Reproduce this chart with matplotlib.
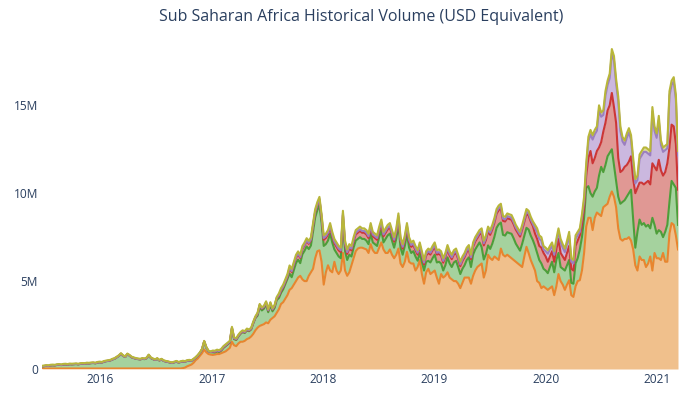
import numpy as np
import pandas as pd
import matplotlib
matplotlib.use("Agg")
import matplotlib.pyplot as plt
from matplotlib.ticker import FuncFormatter

plt.rcParams['font.family'] = ['Open Sans', 'DejaVu Sans']

# weekly volume per group, millions of USD
dates = pd.date_range('2015-06-24', periods=299, freq='7D')

orange = [0.03] * 66 + [
    0.05, 0.08, 0.15, 0.2, 0.25, 0.35, 0.5, 0.6, 0.75, 0.9, 1.1, 0.95, 0.85, 0.82,
    0.8, 0.82, 0.85, 0.85, 0.9, 0.95, 1.0, 1.1, 1.2, 1.55,
    1.35, 1.3, 1.45, 1.55, 1.55, 1.6, 1.7, 1.75, 1.85, 2.0,
    2.2, 2.35, 2.45, 2.5, 2.55, 2.65, 2.6, 2.8, 2.9, 3.0,
    3.2, 3.4, 3.7, 3.8, 4.0, 4.2, 4.5, 4.6, 4.8, 5.0,
    5.2, 5.3, 5.1, 5.0, 5.0, 5.3, 5.5, 5.7, 6.3, 6.7,
    6.75, 6.1, 4.8, 5.5, 5.9, 5.6, 5.5, 6.1, 5.6, 5.4,
    5.6, 6.6, 5.6, 5.3, 5.5, 5.9, 6.3, 6.7, 6.85, 6.9,
    6.9, 6.85, 6.8, 6.6, 7.1, 6.76, 6.6, 6.6, 6.9, 7.2,
    6.8, 6.6, 6.6, 6.8, 6.5, 6.3, 6.5, 6.85, 6.0, 5.8,
    6.1, 6.66, 6.1, 6.0, 6.0, 5.6, 5.8, 6.2, 5.4, 4.85,
    5.5, 5.7, 5.4, 5.5, 5.6, 5.2, 4.85, 5.4, 5.2, 5.3,
    5.5, 5.2, 5.1, 5.0, 5.0, 4.85, 4.6, 4.9, 5.2, 5.2,
    5.2, 4.85, 5.3, 5.6, 5.8, 5.9, 6.0, 5.2, 5.6, 6.5,
    6.3, 6.2, 6.4, 6.3, 6.2, 6.85, 6.5, 6.4, 6.5, 6.4,
    6.3, 6.2, 6.1, 6.0, 5.9, 5.8, 6.4, 6.95, 6.6, 6.2,
    5.9, 5.6, 5.0, 4.9, 4.6, 4.7, 4.6, 4.5, 4.6, 4.7,
    4.2, 4.7, 5.4, 5.0, 4.8, 4.5, 4.8, 5.05, 4.2, 4.1,
    4.7, 5.0, 5.05, 5.6, 6.6, 8.1, 8.6, 8.6, 7.9, 8.6,
    8.9, 8.8, 8.7, 9.2, 9.3, 9.4, 9.8, 10.1, 9.8, 9.2,
    8.0, 7.4, 7.3, 7.4, 7.4, 7.5, 7.3, 6.8, 5.9, 5.6,
    6.4, 6.2, 6.2, 5.8, 6.0, 6.4, 5.6, 6.6, 6.3, 6.3,
    6.2, 6.6, 6.1, 6.1, 7.7, 8.3, 8.2, 7.6, 6.8]

green = [
    0.11, 0.13, 0.15, 0.14, 0.17, 0.18, 0.17, 0.20, 0.21, 0.19,
    0.22, 0.23, 0.21, 0.24, 0.23, 0.24, 0.25, 0.23, 0.26, 0.27,
    0.26, 0.29, 0.28, 0.30, 0.31, 0.29, 0.33, 0.35, 0.33, 0.38,
    0.41, 0.43, 0.45, 0.51, 0.55, 0.63, 0.71, 0.83, 0.71, 0.65,
    0.81, 0.73, 0.63, 0.59, 0.55, 0.53, 0.51, 0.55, 0.53, 0.58,
    0.75, 0.59, 0.53, 0.48, 0.55, 0.45, 0.51, 0.43, 0.39, 0.37,
    0.33, 0.31, 0.35, 0.39, 0.33, 0.37, 0.38, 0.33, 0.31, 0.28,
    0.21, 0.19, 0.14, 0.16, 0.16, 0.21, 0.46, 0.26, 0.16, 0.14,
    0.15, 0.12, 0.15, 0.12, 0.15, 0.25, 0.3, 0.3, 0.3, 0.75,
    0.35, 0.35, 0.4, 0.45, 0.55, 0.45, 0.5, 0.4, 0.4, 0.6,
    0.7, 0.68, 1.08, 0.83, 0.88, 1.03, 0.63, 0.83, 0.38, 0.48,
    0.73, 0.63, 0.63, 0.73, 0.83, 0.93, 0.92, 0.62, 0.82, 1.02,
    1.02, 0.72, 1.42, 1.72, 1.97, 1.52, 1.52, 2.12, 2.32, 2.32,
    2.57, 2.22, 2.2, 1.6, 1.4, 2.1, 1.7, 0.7, 1.0, 1.0,
    0.7, 1.8, 1.1, 0.9, 1.0, 0.5, 0.6, 0.6, 0.55, 0.6,
    0.5, 0.55, 0.5, 0.5, 0.6, 0.44, 0.5, 0.4, 0.6, 0.7,
    0.4, 0.8, 1.0, 0.9, 0.8, 0.6, 0.9, 1.4, 0.9, 0.7,
    0.9, 1.04, 0.8, 0.6, 0.7, 0.8, 0.36, 0.4, 0.7, 0.75,
    0.6, 0.45, 0.66, 0.8, 0.9, 0.86, 1.25, 0.6, 0.4, 0.6,
    0.85, 0.8, 0.7, 1.06, 1.15, 0.95, 0.8, 0.8, 0.7, 1.0,
    1.15, 0.95, 1.2, 1.2, 1.2, 1.3, 0.93, 1.03, 0.93, 0.53,
    0.53, 0.93, 1.13, 1.73, 2.03, 1.48, 1.13, 1.19, 1.28, 1.33,
    1.39, 1.23, 1.03, 0.93, 0.83, 1.33, 1.19, 1.08, 1.33, 1.39,
    1.43, 1.4, 1.6, 1.3, 1.4, 1.0, 1.0, 0.95, 1.2, 1.4,
    1.3, 1.5, 1.2, 0.8, 0.9, 1.1, 1.1, 1.15, 0.7, 0.75,
    1.3, 1.3, 1.75, 1.9, 2.0, 2.2, 1.8, 1.4, 1.9, 1.5,
    1.4, 2.2, 2.8, 2.0, 2.3, 2.7, 2.5, 2.4, 1.8, 1.5,
    1.8, 2.0, 2.2, 2.2, 2.4, 2.5, 2.9, 1.7, 1.0, 2.2,
    2.1, 2.0, 2.1, 2.3, 2.2, 1.6, 3.0, 1.6, 1.4, 1.6,
    1.6, 0.9, 1.7, 2.1, 1.8, 2.4, 2.3, 2.7, 1.4]

red = ([0.01] * 80 + [0.03] * 21 + [0.1] * 10 + [0.12] * 5 + [0.3] * 16
       + [0.35] * 49 + [0.45] * 25 + [0.8] * 25 + [
    0.7, 0.8, 0.8, 0.9, 0.9, 0.8, 0.65, 0.6, 0.6, 0.6,
    0.6, 0.8, 0.8, 0.7, 0.6, 0.7, 0.8, 0.8, 0.75, 1.0,
    1.0, 0.8, 0.7,
    0.6, 0.7, 1.6, 2.4, 1.9, 1.9, 2.1, 1.6, 1.4, 2.3,
    2.4, 2.6, 2.7, 3.2, 3.3, 3.3, 2.2, 1.8, 1.8, 1.9,
    1.8, 1.8, 1.9, 2.3, 3.1, 2.5, 2.1, 2.4, 2.2, 2.5,
    2.5, 2.5, 3.1, 3.3, 3.6, 4.0, 3.5, 3.5, 3.4, 3.5,
    3.1, 3.2, 3.3, 2.5, 2.0])

purple = ([0.0] * 80 + [0.02] * 31 + [0.05] * 21 + [0.1] * 74 + [0.12] * 25 + [
    0.3, 0.4, 0.4, 0.4, 0.2, 0.3, 0.46, 0.4, 0.3, 0.4,
    0.4, 0.4, 0.6, 0.5, 0.45, 0.5, 0.6, 0.4, 0.4, 0.4,
    0.3, 0.2, 0.4,
    0.35, 0.45, 0.95, 0.95, 1.35, 1.35, 1.15, 2.15, 1.45, 0.95,
    1.55, 1.45, 1.55, 2.25, 2.65, 2.25, 3.25, 2.35, 1.65, 1.25,
    1.55, 1.65, 0.95, 0.95, 0.55, 0.45, 1.35, 1.55, 1.85, 1.75,
    1.55, 1.65, 2.95, 2.05, 1.85, 2.25, 1.45, 1.35, 1.25, 0.85,
    2.95, 2.25, 2.55, 2.55, 1.95])

olive = ([0.03] * 80 + [0.05] * 31 + [0.1] * 5 + [0.12] * 16 + [0.15] * 99
         + [0.2] * 23 + [0.25] * 45)

series = [orange, green, red, purple, olive]
line_colors = ['#e8852e', '#4d9e3a', '#cc3636', '#9b7fc0', '#b8b63a']
fill_colors = ['#f0c08c', '#a5d29e', '#e09894', '#cbb8df', '#dcda9c']

levels = np.cumsum(np.array(series), axis=0)

fig = plt.figure(figsize=(6.88, 3.95), dpi=100)
ax = fig.add_axes([42 / 688, 26 / 395, 636 / 688, 327 / 395])

lower = np.zeros(len(dates))
for lev, fc in zip(levels, fill_colors):
    ax.fill_between(dates, lower, lev, color=fc, linewidth=0)
    lower = lev
for lev, lc in zip(levels, line_colors):
    ax.plot(dates, lev, color=lc, linewidth=1.5)

ax.set_xlim(dates[0], dates[-1])
ax.set_ylim(0, 18.6)

ax.set_yticks([0, 5, 10, 15])
ax.yaxis.set_major_formatter(FuncFormatter(lambda v, p: '0' if v == 0 else f'{v:g}M'))
ax.set_xticks(pd.to_datetime([f'{y}-01-01' for y in range(2016, 2022)]))
ax.set_xticklabels([str(y) for y in range(2016, 2022)])
ax.tick_params(length=0, labelsize=8.6, colors='#2a3f5f')
ax.tick_params(axis='y', pad=3)
ax.tick_params(axis='x', pad=3)
for s in ax.spines.values():
    s.set_visible(False)

fig.text(361 / 688, 1 - 17 / 395, 'Sub Saharan Africa Historical Volume (USD Equivalent)',
         ha='center', va='center', fontsize=11.5, color='#2a3f5f')

fig.savefig('out.png', dpi=100)
